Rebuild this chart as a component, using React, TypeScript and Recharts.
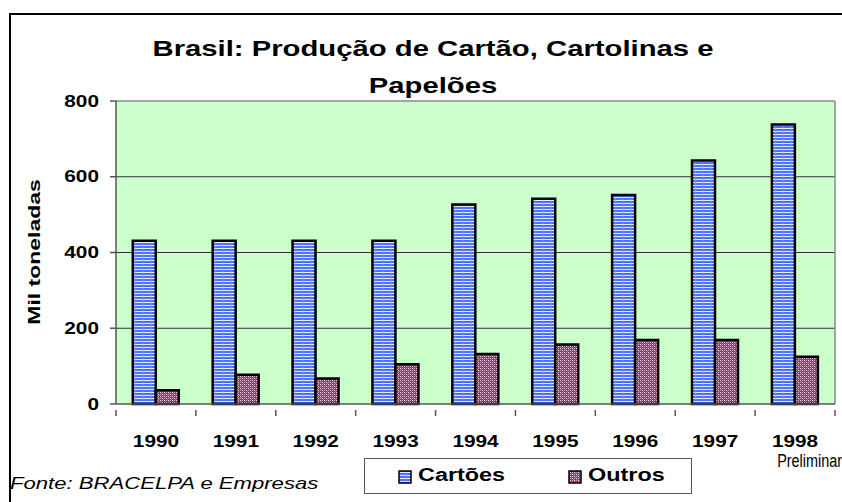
import React from "react";
import { Bar, BarChart, CartesianGrid, ReferenceLine, XAxis, YAxis } from "recharts";

const years = ["1990", "1991", "1992", "1993", "1994", "1995", "1996", "1997", "1998"];
const cartoes = [431, 431, 431, 431, 527, 542, 552, 643, 738];
const outros = [36, 77, 67, 105, 132, 157, 169, 169, 125];
const yTicks = [0, 200, 400, 600, 800];

const data = years.map((year, i) => ({ year, cartoes: cartoes[i], outros: outros[i] }));

const font = "Arial, 'Liberation Sans', sans-serif";
// the reference text is drawn wide, so text is stretched horizontally
const stretch = 1.3;
const xTickMargin = 26;

function PatternDefs() {
  return (
    <defs>
      <pattern id="patCartoes" width="8" height="3" patternUnits="userSpaceOnUse">
        <rect width="8" height="3" fill="#4a72ff" />
        <rect y="2" width="8" height="1" fill="#e6ecff" />
        <rect x="7" width="1" height="3" fill="#7f9cff" opacity="0.6" />
      </pattern>
      <pattern id="patOutros" width="4" height="4" patternUnits="userSpaceOnUse">
        <rect width="4" height="4" fill="#993366" />
        <rect x="0" y="0" width="1" height="1" fill="#f6e4ee" />
        <rect x="2" y="2" width="1" height="1" fill="#f6e4ee" />
        <rect x="2" y="0" width="1" height="1" fill="#d49ab8" />
        <rect x="0" y="2" width="1" height="1" fill="#d49ab8" />
        <rect x="1" y="1" width="1" height="1" fill="#b86690" />
        <rect x="3" y="3" width="1" height="1" fill="#b86690" />
      </pattern>
    </defs>
  );
}

function YTick(props: any) {
  const { x, y, payload } = props;
  return (
    <text
      transform={`translate(${x} ${y}) scale(${stretch} 1)`}
      textAnchor="end"
      dy="0.35em"
      fontSize={16}
      fontWeight={700}
      fontFamily={font}
      fill="#000"
    >
      {payload.value}
    </text>
  );
}

// category label plus Excel-style tick marks on the category boundaries
function XTick(props: any) {
  const { x, y, payload, index, visibleTicksCount } = props;
  const half = payload.offset ?? 40;
  const axisY = y - xTickMargin;
  const last = index === visibleTicksCount - 1;
  return (
    <g>
      <line x1={x - half} x2={x - half} y1={axisY} y2={axisY + 6} stroke="#555555" strokeWidth={1.5} />
      {last && <line x1={x + half} x2={x + half} y1={axisY} y2={axisY + 6} stroke="#555555" strokeWidth={1.5} />}
      <text
        transform={`translate(${x} ${y}) scale(${stretch} 1)`}
        textAnchor="middle"
        dy="0.71em"
        fontSize={16}
        fontWeight={700}
        fontFamily={font}
        fill="#000"
      >
        {payload.value}
      </text>
    </g>
  );
}

function Wide({ children, style, origin = "left center", sx = stretch }: any) {
  return (
    <div style={{ position: "absolute", whiteSpace: "nowrap", transform: `scaleX(${sx})`, transformOrigin: origin, ...style }}>
      {children}
    </div>
  );
}

export default function App() {
  return (
    <div style={{ position: "absolute", left: 0, top: 0, width: 842, height: 502, overflow: "hidden", background: "#ffffff", fontFamily: font, color: "#000" }}>
      <div style={{ position: "absolute", left: 9, top: 13, width: 900, height: 600, borderLeft: "2px solid #000", borderTop: "2px solid #000" }} />
      <div style={{ position: "absolute", left: 0, top: 0 }}>
        <BarChart
          width={842}
          height={502}
          data={data}
          margin={{ top: 101, right: 7, bottom: 97, left: 56 }}
          barCategoryGap="21%"
          barGap={0}
        >
          <PatternDefs />
          <CartesianGrid vertical={false} fill="#ccffcc" stroke="#333333" horizontalValues={[200, 400, 600]} />
          <XAxis
            dataKey="year"
            height={1}
            axisLine={false}
            tickLine={false}
            tickMargin={xTickMargin}
            interval={0}
            tick={<XTick />}
          />
          <YAxis
            domain={[0, 800]}
            ticks={yTicks}
            width={60}
            axisLine={{ stroke: "#555555", strokeWidth: 1.5 }}
            tickLine={{ stroke: "#555555", strokeWidth: 1.5 }}
            tickSize={6}
            tickMargin={11}
            tick={<YTick />}
          />
          <ReferenceLine y={800} stroke="#888888" strokeWidth={1.5} />
          <ReferenceLine x="1998" position="end" stroke="#888888" strokeWidth={1.5} />
          <ReferenceLine y={0} stroke="#555555" strokeWidth={1.5} />
          <Bar dataKey="cartoes" name="Cartões" fill="url(#patCartoes)" stroke="#000" strokeWidth={2.5} isAnimationActive={false} />
          <Bar dataKey="outros" name="Outros" fill="url(#patOutros)" stroke="#000" strokeWidth={2.5} isAnimationActive={false} />
        </BarChart>
      </div>
      <Wide origin="433px center" sx={1.33} style={{ left: 0, top: 30, width: 866, textAlign: "center", fontSize: 22, fontWeight: 700, lineHeight: "37px" }}>
        Brasil: Produção de Cartão, Cartolinas e
        <br />
        Papelões
      </Wide>
      <div style={{ position: "absolute", left: 35, top: 252, width: 0, height: 0 }}>
        <div style={{ position: "absolute", transform: `translate(-50%, -50%) rotate(-90deg) scaleX(1.35)`, whiteSpace: "nowrap", fontSize: 17, fontWeight: 700 }}>
          Mil toneladas
        </div>
      </div>
      <div style={{ position: "absolute", right: 0, top: 450, whiteSpace: "nowrap", fontSize: 18, lineHeight: "22px", transform: "scaleX(0.8)", transformOrigin: "right center" }}>Preliminar</div>
      <Wide style={{ left: 10, top: 474, fontSize: 17, fontStyle: "italic" }}>Fonte: BRACELPA e Empresas</Wide>
      <div style={{ position: "absolute", left: 364, top: 458, width: 326, height: 34, border: "1px solid #555", boxSizing: "content-box" }}>
        <svg width={14} height={14} style={{ position: "absolute", left: 33, top: 11 }}>
          <rect x={1} y={1} width={12} height={12} fill="url(#patCartoes)" stroke="#000" strokeWidth={1.5} />
        </svg>
        <Wide style={{ left: 53, top: 6, fontSize: 18, fontWeight: 700 }}>Cartões</Wide>
        <svg width={14} height={14} style={{ position: "absolute", left: 203, top: 11 }}>
          <rect x={1} y={1} width={12} height={12} fill="url(#patOutros)" stroke="#000" strokeWidth={1.5} />
        </svg>
        <Wide style={{ left: 223, top: 6, fontSize: 18, fontWeight: 700 }}>Outros</Wide>
      </div>
    </div>
  );
}
